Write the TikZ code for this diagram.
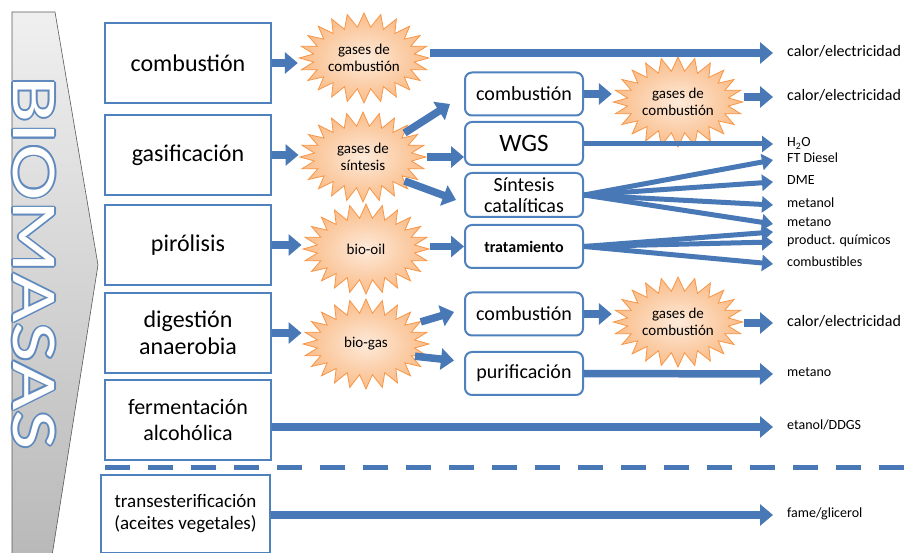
\documentclass[tikz,border=0pt]{standalone}
\usepackage{fontspec}
\setmainfont{Carlito}
\usetikzlibrary{arrows.meta, positioning, shapes.symbols, calc}
\definecolor{cBox}{RGB}{79,129,189}
\definecolor{cArrow}{RGB}{72,120,182}
\definecolor{cBurst}{RGB}{247,150,70}
\definecolor{cBurstIn}{RGB}{253,234,218}
\definecolor{cBurstOut}{RGB}{250,188,136}
\definecolor{cTitle}{RGB}{96,138,190}
\newcommand{\fsize}[2]{\fontsize{#1}{#2}\selectfont}
\newcommand{\titleword}{\scalebox{1.33}[1]{BIOMASAS}}

\begin{document}
\begin{tikzpicture}[x=1pt, y=-1pt,
    procbox/.style={draw=cBox, line width=1.5pt, fill=white, minimum width=166pt,
      minimum height=80pt, align=center, inner sep=0pt, font=\fsize{24}{27}},
    stagebox/.style={draw=cBox, line width=2pt, fill=white, rounded corners=7pt,
      minimum width=118pt, minimum height=43pt, align=center, inner sep=0pt,
      font=\fsize{20}{21}},
    burst/.style={starburst, starburst points=24, starburst point height=14pt,
      random starburst=0, draw=cBurst, line width=0.8pt, shade,
      inner color=cBurstIn, outer color=cBurstOut, minimum width=126pt,
      minimum height=90pt, inner sep=0pt, align=center, font=\fsize{15}{17}},
    product/.style={anchor=west, inner sep=0pt, text height=9pt, text depth=3pt,
      font=\fsize{14}{16}},
    bigproduct/.style={product, text height=11pt, text depth=3pt, font=\fsize{16}{18}},
    fat/.style={draw=cArrow, line width=7.5pt, -{Triangle[width=21pt, length=13pt]}},
    slim/.style={draw=cArrow, line width=5pt, -{Triangle[width=16pt, length=11pt]}},
    titletext/.style={rotate=-90, inner sep=0pt, font=\fsize{64}{64}},
  ]
  \useasboundingbox (0,0) rectangle (906,553);
  \fill[white] (0,0) rectangle (906,553);

  % biomass chevron
  \shade[top color=gray!12, bottom color=gray!55, draw=gray!70!black, line width=0.6pt]
    (12,12) -- (55,12) -- (98,265) -- (52,556) -- (12,556) -- cycle;
  \coordinate (title) at (34,263);
  \foreach \a in {0,30,...,330}
    \node[titletext, text=cTitle] at ($(title)+(\a:1.6pt)$) {\titleword};
  \node[titletext, text=white] at (title) {\titleword};

  % processes
  \node[procbox] (comb) at (188,63) {combustión};
  \node[procbox] (gasi) at (188,155) {gasificación};
  \node[procbox] (piro) at (188,245) {pirólisis};
  \node[procbox] (dige) at (188,333) {digestión\\anaerobia};
  \node[procbox, font=\fsize{22}{26}] (ferm) at (188,420) {fermentación\\alcohólica};
  \node[procbox, minimum width=169pt, minimum height=78pt, font=\fsize{19}{22}]
    (tran) at (185.5,514) {transesterificación\\(aceites vegetales)};

  % intermediate steps
  \node[stagebox] (burn) at (524,94) {combustión};
  \node[stagebox, font=\fsize{25}{26}] (wgs) at (524,143.5) {WGS};
  \node[stagebox, minimum height=44pt] (sint) at (524,195) {Síntesis\\catalíticas};
  \node[stagebox, font=\bfseries\fsize{16}{18}] (trat) at (524,246.5) {tratamiento};
  \node[stagebox] (burn2) at (524,314) {combustión};
  \node[stagebox] (puri) at (524,373.5) {purificación};

  % gases and oils
  \node[burst] (gcomb) at (364,58) {gases de\\combustión};
  \node[burst] (gsint) at (363,157) {gases de\\síntesis};
  \node[burst] (oil) at (366,249) {bio-oil};
  \node[burst] (gas) at (366,344) {bio-gas};
  \node[burst] (gcomb2) at (678,102) {gases de\\combustión};
  \node[burst] (gcomb3) at (678,322) {gases de\\combustión};

  % products
  \node[bigproduct] (heat1) at (787,53) {calor/electricidad};
  \node[bigproduct] (heat2) at (787,97) {calor/electricidad};
  \node[product] (water) at (787,144) {H\textsubscript{2}O};
  \node[product] (ftd) at (787,160) {FT Diesel};
  \node[product] (dme) at (787,182) {DME};
  \node[product] (meoh) at (787,205) {metanol};
  \node[product] (ch4) at (787,224) {metano};
  \node[product] (chem) at (787,242) {product. químicos};
  \node[product] (fuel) at (787,264) {combustibles};
  \node[bigproduct] (heat3) at (787,323) {calor/electricidad};
  \node[product] (ch4b) at (787,374) {metano};
  \node[product] (etoh) at (787,427) {etanol/DDGS};
  \node[product] (fame) at (787,515) {fame/glicerol};

  % feeds
  \draw[fat] (comb.east) -- (comb.east -| gcomb.west);
  \draw[fat] (gasi.east) -- (gasi.east -| gsint.west);
  \draw[fat] (piro.east) -- (piro.east -| oil.west);
  \draw[fat] (dige.east) -- (dige.east -| gas.west);

  % upper branch
  \draw[fat] (gcomb.east |- heat1) -- ([xshift=-14pt]heat1.west);
  \draw[fat] (gsint.30) -- ($(burn.west)+(-14,10)$);
  \draw[fat] (gsint.east) -- (gsint.east -| wgs.west);
  \draw[fat] (gsint.-30) -- ($(sint.west)+(-8,5)$);
  \draw[fat] (burn.east) -- (burn.east -| gcomb2.west);
  \draw[fat] (gcomb2.east |- heat2) -- ([xshift=-14pt]heat2.west);
  \draw[slim] (wgs.east |- water) -- ([xshift=-14pt]water.west);
  \foreach \p in {ftd, dme, meoh, ch4}
    \draw[slim] (sint.east) -- ([xshift=-14pt]\p.west);
  \draw[fat] (oil.east |- trat) -- (trat.west);
  \draw[slim] (trat.east) -- ([xshift=-14pt, yshift=-8pt]ch4.west);
  \foreach \p in {chem, fuel}
    \draw[slim] (trat.east) -- ([xshift=-14pt]\p.west);

  % lower branch
  \draw[fat] (gas.22) -- ($(burn2.west)+(-10,-2)$);
  \draw[fat] (gas.-14) -- ($(puri.west)+(-10,-13)$);
  \draw[fat] (burn2.east) -- (burn2.east -| gcomb3.west);
  \draw[fat] (gcomb3.east |- heat3) -- ([xshift=-14pt]heat3.west);
  \draw[fat] (puri.east) -- ([xshift=-14pt]ch4b.west);
  \draw[fat] (ferm.east |- etoh) -- ([xshift=-14pt]etoh.west);

  % oils apart
  \draw[cArrow, line width=5pt, dash pattern=on 25pt off 18pt] (105,468) -- (906,468);
  \draw[fat] (tran.east |- fame) -- ([xshift=-14pt]fame.west);
\end{tikzpicture}
\end{document}
